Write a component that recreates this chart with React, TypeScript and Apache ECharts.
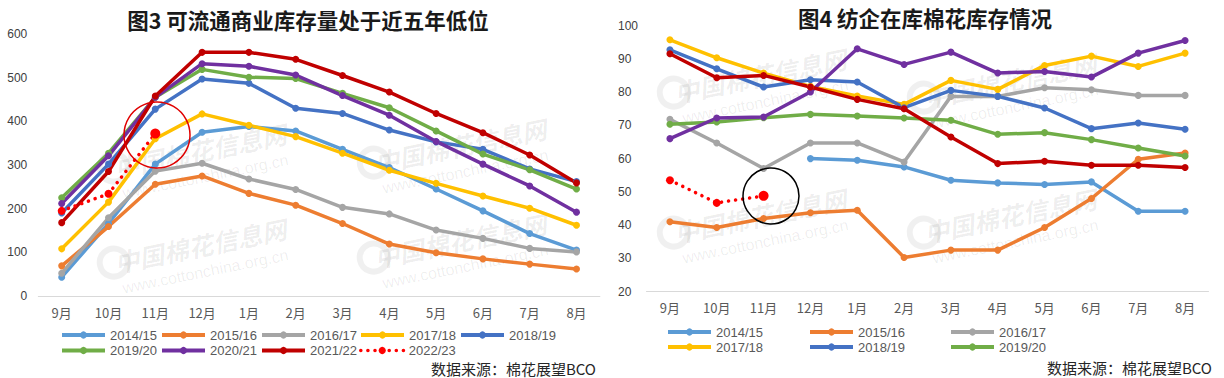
import React, { useEffect, useRef } from 'react';
import * as echarts from 'echarts';

const months = ['9月', '10月', '11月', '12月', '1月', '2月', '3月', '4月', '5月', '6月', '7月', '8月'];
const seasons = ['2014/15', '2015/16', '2016/17', '2017/18', '2018/19', '2019/20', '2020/21', '2021/22', '2022/23'];
const colors = ['#5B9BD5', '#ED7D31', '#A5A5A5', '#FFC000', '#4472C4', '#70AD47', '#7030A0', '#C00000', '#FF0000'];

// 图3 可流通商业库存量 (万吨)
const comm1415 = [43, 166, 302, 375, 388, 378, 336, 294, 245, 195, 143, 105];
const comm1516 = [69, 159, 256, 275, 235, 208, 166, 119, 99, 85, 73, 62];
const comm1617 = [52, 179, 286, 304, 268, 244, 203, 188, 151, 132, 109, 101];
const comm1718 = [108, 215, 360, 417, 391, 365, 327, 288, 258, 229, 201, 162];
const comm1819 = [190, 302, 428, 497, 487, 430, 418, 380, 353, 336, 291, 262];
const comm1920 = [225, 327, 455, 519, 501, 498, 464, 431, 378, 325, 289, 245];
const comm2021 = [212, 321, 455, 532, 526, 506, 459, 414, 354, 302, 252, 192];
const comm2122 = [168, 285, 458, 558, 558, 542, 505, 467, 418, 374, 323, 259];
const comm2223 = [195, 234, 372];

// 图4 纺企在库棉花库存 (万吨)
const mill1415 = [null, null, null, 60, 59.5, 57.5, 53.5, 52.7, 52.2, 53, 44.2, 44.2];
const mill1516 = [41, 39.3, 42, 43.7, 44.5, 30.3, 32.5, 32.5, 39.3, 48, 59.8, 61.7];
const mill1617 = [71.8, 64.7, 57, 64.7, 64.7, 59, 78.7, 78.7, 81.3, 80.7, 79, 79];
const mill1718 = [95.7, 90.3, 85.7, 81.7, 78.8, 76.3, 83.5, 80.8, 88, 90.8, 87.7, 91.7];
const mill1819 = [92.7, 87, 81.5, 83.7, 83, 75.3, 80.5, 78.7, 75.2, 69, 70.7, 68.8];
const mill1920 = [70.3, 71, 72.3, 73.3, 72.8, 72.2, 71.5, 67.3, 67.8, 65.7, 63.2, 60.8];
const mill2021 = [66, 72.2, 72.5, 80, 93, 88.3, 92, 85.7, 86.2, 84.5, 91.7, 95.5];
const mill2122 = [91.5, 84.3, 85, 81.5, 77.8, 75, 66.5, 58.5, 59.2, 58, 58, 57.3];
const mill2223 = [53.5, 46.7, 48.8];

const leftTicks = { min: 0, max: 600, interval: 100 };
const rightTicks = { min: 20, max: 100, interval: 10 };

const commSeries = [comm1415, comm1516, comm1617, comm1718, comm1819, comm1920, comm2021, comm2122, comm2223];
const millSeries = [mill1415, mill1516, mill1617, mill1718, mill1819, mill1920, mill2021, mill2122, mill2223];

const FONT = '"Liberation Sans", "Noto Sans CJK SC", sans-serif';
const CJK = '"Noto Sans CJK SC", sans-serif';

function buildSeries(data: (number | null)[], idx: number, axis: number) {
  const color = colors[idx];
  const dotted = idx === 8;
  return {
    type: 'line',
    name: seasons[idx],
    data: data.map((v) => (v === null ? '-' : v)),
    xAxisIndex: axis,
    yAxisIndex: axis,
    symbol: 'circle',
    symbolSize: dotted ? (_v: any, p: any) => (p.dataIndex === data.length - 1 ? 10 : 8) : 7,
    lineStyle: dotted
      ? { color, width: 3.5, type: [0.1, 7], cap: 'round' }
      : { color, width: 3.5 },
    itemStyle: { color },
    emphasis: { disabled: true },
  };
}

function legendItem(name: string, left: number, centerY: number) {
  const dotted = name === '2022/23';
  return {
    data: [name],
    left,
    top: centerY - 8,
    padding: 0,
    itemWidth: 43,
    itemHeight: 9,
    itemGap: 0,
    selectedMode: false,
    lineStyle: dotted ? { width: 3.5, type: [0.1, 7], cap: 'round' } : { width: 4 },
    textStyle: { fontSize: 13, color: '#595959', fontFamily: FONT, lineHeight: 16 },
  };
}

const legendLayout: [string, number, number][] = [
  ['2014/15', 60, 335], ['2015/16', 160, 335], ['2016/17', 260, 335], ['2017/18', 359, 335], ['2018/19', 459, 335],
  ['2019/20', 60, 350.5], ['2020/21', 160, 350.5], ['2021/22', 260, 350.5], ['2022/23', 359, 350.5],
  ['2014/15', 666, 332], ['2015/16', 808, 332], ['2016/17', 949, 332],
  ['2017/18', 666, 347], ['2018/19', 808, 347], ['2019/20', 949, 347],
];

const watermarkSpots: [number, number][] = [
  [200, 150], [460, 145], [200, 245], [460, 240],
  [760, 75], [1010, 80], [760, 215], [1010, 215],
];

function watermarks() {
  const out: any[] = [];
  watermarkSpots.forEach(([x, y]) => {
    out.push({
      type: 'group',
      x,
      y,
      rotation: 0.2,
      silent: true,
      z: -10,
      children: [
        { type: 'circle', shape: { cx: -88, cy: 0, r: 14 }, style: { fill: 'none', stroke: 'rgba(0,0,0,0.06)', lineWidth: 6 } },
        {
          type: 'text',
          style: {
            text: '中国棉花信息网',
            x: 0, y: 0,
            fill: 'rgba(0,0,0,0.07)',
            font: 'italic bold 25px "Noto Sans CJK SC"',
            align: 'center',
            verticalAlign: 'middle',
          },
        },
        {
          type: 'text',
          style: {
            text: 'www.cottonchina.org.cn',
            x: 0, y: 27,
            fill: 'rgba(0,0,0,0.07)',
            font: '16px "Liberation Sans"',
            align: 'center',
            verticalAlign: 'middle',
          },
        },
      ],
    });
  });
  return out;
}

const axisLabelX = { fontSize: 13, color: '#595959', fontFamily: CJK, margin: 9 };

const option: any = {
  animation: false,
  backgroundColor: '#ffffff',
  title: [
    {
      text: '图3 可流通商业库存量处于近五年低位',
      left: 303, top: 4, textAlign: 'center',
      textStyle: { fontSize: 21.5, fontWeight: 'bold', color: '#1a1a1a', fontFamily: CJK },
    },
    {
      text: '图4 纺企在库棉花库存情况',
      left: 920, top: 2, textAlign: 'center',
      textStyle: { fontSize: 21.5, fontWeight: 'bold', color: '#1a1a1a', fontFamily: CJK },
    },
  ],
  legend: legendLayout.map(([n, l, c]) => legendItem(n, l, c)),
  grid: [
    { left: 38.3, top: 34, width: 561.6, height: 262 },
    { left: 646.5, top: 25.5, width: 562, height: 266.2 },
  ],
  xAxis: [0, 1].map((i) => ({
    type: 'category',
    gridIndex: i,
    data: months,
    boundaryGap: true,
    axisLine: { lineStyle: { color: '#D9D9D9', width: 1 } },
    axisTick: { show: false },
    axisLabel: { ...axisLabelX, margin: i === 0 ? 10 : 9 },
    splitLine: { show: false },
  })),
  yAxis: [
    {
      type: 'value', gridIndex: 0, ...leftTicks,
      axisLine: { show: false }, axisTick: { show: false }, splitLine: { show: false },
      axisLabel: { fontSize: 12, color: '#404040', fontFamily: FONT, margin: 11 },
    },
    {
      type: 'value', gridIndex: 1, ...rightTicks,
      axisLine: { show: false }, axisTick: { show: false }, splitLine: { show: false },
      axisLabel: { fontSize: 12, color: '#404040', fontFamily: FONT, margin: 28.5, align: 'left' },
    },
  ],
  series: [
    ...commSeries.map((d, i) => buildSeries(d, i, 0)),
    ...millSeries.map((d, i) => buildSeries(d, i, 1)),
  ],
  graphic: [
    ...watermarks(),
    { type: 'circle', shape: { cx: 157, cy: 135, r: 33 }, style: { fill: 'none', stroke: '#E00000', lineWidth: 1.5 }, z: 100, silent: true },
    { type: 'circle', shape: { cx: 771, cy: 196, r: 28 }, style: { fill: 'none', stroke: '#000000', lineWidth: 1.5 }, z: 100, silent: true },
    {
      type: 'text', z: 100, silent: true,
      style: { text: '数据来源：棉花展望BCO', x: 596, y: 368.5, align: 'right', verticalAlign: 'middle', fill: '#262626', font: '15px "Noto Sans CJK SC"', lineHeight: 17 },
    },
    {
      type: 'text', z: 100, silent: true,
      style: { text: '数据来源：棉花展望BCO', x: 1212, y: 367, align: 'right', verticalAlign: 'middle', fill: '#262626', font: '15px "Noto Sans CJK SC"', lineHeight: 17 },
    },
  ],
};

export default function App() {
  const ref = useRef<HTMLDivElement>(null);
  useEffect(() => {
    const chart = echarts.init(ref.current!, null, { renderer: 'svg' });
    chart.setOption(option);
    return () => chart.dispose();
  }, []);
  return <div ref={ref} style={{ position: 'fixed', left: 0, top: 0, width: 1224, height: 378 }} />;
}
